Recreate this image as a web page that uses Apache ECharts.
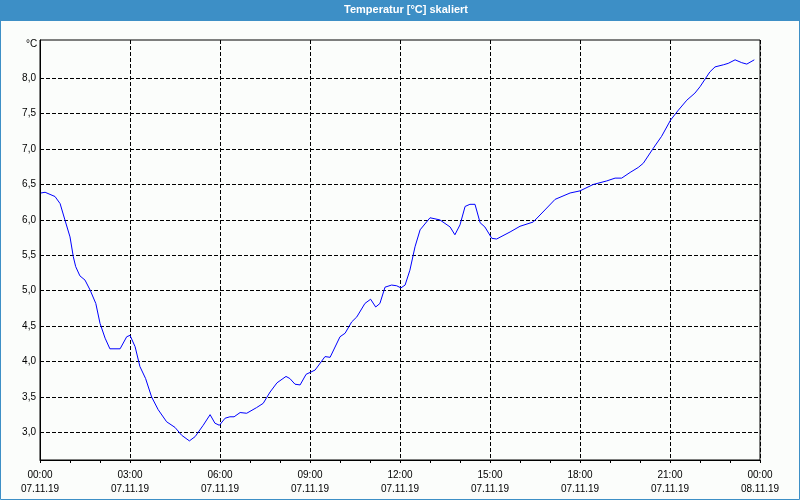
<!DOCTYPE html>
<html>
<head>
<meta charset="utf-8">
<script src="https://cdn.jsdelivr.net/npm/echarts@6/dist/echarts.min.js"></script>
<style>
html,body{margin:0;padding:0;background:#fbfdfb;}
#c{width:800px;height:500px;}
</style>
</head>
<body>
<div id="c"></div>
<script>
// Data (hours since 07.11.19 00:00, temperature in °C)
const hours = [0.03,0.17,0.50,0.67,0.83,1.00,1.11,1.19,1.33,1.50,1.67,1.86,2.00,2.17,2.33,2.67,2.89,3.00,3.17,3.33,3.52,3.72,3.94,4.22,4.50,4.72,4.98,5.17,5.44,5.67,5.83,5.98,6.17,6.33,6.47,6.67,6.89,7.22,7.44,7.67,7.90,8.20,8.33,8.50,8.67,8.87,9.17,9.50,9.67,10.00,10.17,10.39,10.56,10.83,11.02,11.19,11.33,11.50,11.72,11.89,12.03,12.17,12.33,12.50,12.67,13.00,13.33,13.67,13.83,14.00,14.17,14.33,14.50,14.67,14.83,15.06,15.22,15.67,16.00,16.44,16.83,17.17,17.67,18.00,18.44,18.89,19.17,19.39,19.67,19.94,20.11,20.44,20.72,21.02,21.28,21.56,21.83,22.00,22.33,22.50,22.78,22.94,23.17,23.39,23.56,23.81];
const temps = [6.38,6.39,6.33,6.23,6.00,5.76,5.48,5.34,5.21,5.15,5.01,4.82,4.54,4.33,4.18,4.18,4.35,4.37,4.21,3.93,3.76,3.50,3.32,3.15,3.07,2.96,2.88,2.94,3.10,3.25,3.13,3.10,3.20,3.22,3.22,3.28,3.27,3.35,3.41,3.57,3.70,3.79,3.76,3.68,3.67,3.82,3.88,4.07,4.06,4.35,4.40,4.56,4.63,4.82,4.88,4.77,4.82,5.05,5.08,5.07,5.04,5.08,5.29,5.62,5.86,6.03,6.00,5.90,5.79,5.93,6.19,6.22,6.22,5.96,5.90,5.74,5.73,5.83,5.91,5.97,6.14,6.29,6.38,6.41,6.50,6.55,6.59,6.59,6.67,6.74,6.80,7.01,7.18,7.41,7.55,7.69,7.79,7.88,8.09,8.16,8.19,8.21,8.26,8.22,8.20,8.26];
const yTickValues = [3.0,3.5,4.0,4.5,5.0,5.5,6.0,6.5,7.0,7.5,8.0];
const xTimeLabels = ['00:00','03:00','06:00','09:00','12:00','15:00','18:00','21:00','00:00'];
const xDateLabels = ['07.11.19','07.11.19','07.11.19','07.11.19','07.11.19','07.11.19','07.11.19','07.11.19','08.11.19'];
const titleText = 'Temperatur [°C] skaliert';
const unitText = '°C';

const chart = echarts.init(document.getElementById('c'));
const font = 'Liberation Sans';
chart.setOption({
  animation: false,
  backgroundColor: '#fbfdfb',
  graphic: [
    {type: 'rect', z: -1, shape: {x: 0, y: 0, width: 800, height: 21}, style: {fill: '#3d8fc6'}},
    {type: 'rect', z: -1, shape: {x: 0.5, y: 0.5, width: 799, height: 499}, style: {fill: null, stroke: '#3d8fc6', lineWidth: 1}},
    {type: 'text', x: 406, y: 4, style: {text: titleText, fill: '#ffffff', font: 'bold 11px "Liberation Sans"', textAlign: 'center'}},
    {type: 'text', left: 26, top: 39, style: {text: unitText, fill: '#000', font: '10px "Liberation Sans"'}}
  ],
  grid: {left: 40, right: 40, top: 40, bottom: 40, show: true, borderColor: '#000', borderWidth: 1, backgroundColor: 'transparent'},
  xAxis: {
    type: 'value', min: 0, max: 24, interval: 3,
    axisLine: {lineStyle: {color: '#000', width: 1}},
    axisTick: {show: true, length: 3, lineStyle: {color: '#000'}},
    minorTick: {show: true, splitNumber: 3, length: 3, lineStyle: {color: '#000'}},
    splitLine: {show: true, lineStyle: {color: '#000', type: [4, 2], width: 1}},
    axisLabel: {
      margin: 8, color: '#000', fontFamily: font, fontSize: 10, lineHeight: 14,
      formatter: function (v) { const i = Math.round(v / 3); return xTimeLabels[i] + '\n' + xDateLabels[i]; }
    }
  },
  yAxis: {
    type: 'value', min: 2.61, max: 8.54,
    axisLine: {show: true, lineStyle: {color: '#000', width: 1}},
    axisTick: {show: false, customValues: yTickValues},
    splitLine: {show: true, lineStyle: {color: '#000', type: [4, 2], width: 1}},
    axisLabel: {
      customValues: yTickValues, margin: 4, color: '#000', fontFamily: font, fontSize: 10,
      formatter: function (v) { return v.toFixed(1).replace('.', ','); }
    }
  },
  series: [{
    type: 'line',
    data: hours.map((h, i) => [h, temps[i]]),
    showSymbol: false,
    smooth: false,
    lineStyle: {color: '#0000ff', width: 1},
    itemStyle: {color: '#0000ff'}
  }]
});
</script>
</body>
</html>
